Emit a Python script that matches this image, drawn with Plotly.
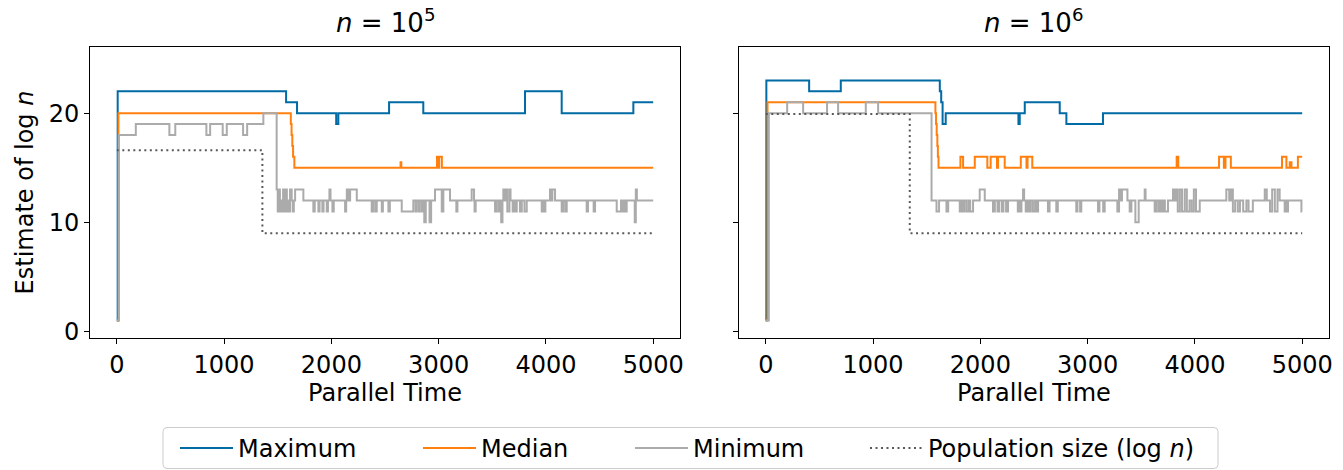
import plotly.graph_objects as go

# ---------------- data ----------------
panel_titles = ["<i>n</i> = 10<sup>5</sup>", "<i>n</i> = 10<sup>6</sup>"]
series_names = ["Maximum", "Median", "Minimum", "Population size (log <i>n</i>)"]
x_ticks = [0, 1000, 2000, 3000, 4000, 5000]
y_ticks = [0, 10, 20]

# n = 10^5 panel (step change points: time, value)
max1_t = [0, 8, 1578, 1680, 2045, 2065, 2538, 2857, 3805, 4147, 4815, 5000]
max1_v = [1, 22, 21, 20, 19, 20, 21, 20, 22, 20, 21, 21]

med1_t = [0, 15, 1622, 1629, 1636, 1643, 1655, 2645, 2652, 2985, 2995, 3005, 3030, 5000]
med1_v = [1, 20, 19, 18, 17, 16, 15, 15.5, 15, 16, 15, 16, 15, 15]

min1_t = [0, 20, 177, 490, 545, 835, 870, 987, 1025, 1177, 1215, 1366, 1490,
          1500, 1510, 1520, 1530, 1540, 1550, 1560, 1575, 1585, 1595, 1605, 1615, 1630, 1640, 1650, 1662,
          1739, 1832, 1845, 1879, 1890, 1916, 1927, 1957, 1968, 1982, 1992, 2010, 2022,
          2128, 2138, 2144, 2160, 2175, 2237, 2376, 2390, 2410, 2423, 2470, 2480, 2532, 2545,
          2656, 2764, 2785, 2795, 2815, 2825, 2845, 2855, 2866, 2880, 2915, 2930,
          2966, 3029, 3044, 3106, 3165, 3175, 3308, 3330, 3335, 3345,
          3526, 3540, 3560, 3572, 3583, 3595, 3603, 3615, 3625, 3640, 3660, 3670, 3690, 3700, 3710, 3728,
          3758, 3775, 3800, 3821, 3961, 3975, 3985, 3995, 4038, 4050, 4060, 4085,
          4147, 4160, 4180, 4194, 4380, 4392, 4445, 4458,
          4660, 4700, 4710, 4725, 4740, 4753, 4828, 4838, 4848, 5000]
min1_v = [1, 18, 19, 18, 19, 18, 19, 18, 19, 18, 19, 20, 13,
          11, 13, 11, 12, 11, 13, 11, 13, 11, 12, 11, 13, 12, 11, 12, 13,
          12, 11, 12, 11, 12, 11, 12, 11, 12, 13, 12, 11, 12,
          11, 12, 13, 12, 13, 12, 11, 12, 11, 12, 11, 12, 11, 12,
          11, 12, 11, 12, 11, 12, 11, 12, 10, 12, 10, 12,
          13, 11, 13, 12, 11, 12, 13, 12, 11, 12,
          11, 12, 11, 12, 10, 12, 13, 12, 13, 11, 13, 12, 11, 12, 11, 12,
          11, 12, 11, 12, 11, 12, 11, 12, 13, 12, 13, 12,
          11, 12, 11, 12, 11, 12, 11, 12,
          11, 12, 11, 12, 11, 12, 10, 13, 12, 12]

pop1_t = [0, 1357, 5000]
pop1_v = [16.61, 9, 9]

# n = 10^6 panel
max2_t = [0, 5, 404, 699, 1622, 1635, 1648, 1677, 2355, 2367, 2414, 2740, 2802, 3143, 5000]
max2_v = [1, 23, 22, 23, 22, 21, 19, 20, 19, 20, 21, 20, 19, 20, 20]

med2_t = [0, 16, 1581, 1587, 1593, 1599, 1604, 1610, 1814, 1839, 1948, 2065, 2096, 2155, 2165,
          2227, 2377, 2430, 2440, 2484, 3830, 3845, 4225, 4270, 4285, 4335,
          4812, 4853, 4884, 4900, 4960, 5000]
med2_v = [1, 21, 20, 19, 18, 17, 16, 15, 16, 15, 16, 15, 16, 15, 16,
          15, 16, 15, 16, 15, 16, 15, 16, 15, 16, 15,
          16, 15, 15.5, 15, 16, 16]

min2_t = [0, 28, 199, 348, 571, 674, 932, 1047, 1545,
          1591, 1615, 1684, 1700, 1808, 1820, 1835, 1850, 1870, 1890, 1905, 1932,
          1994, 2041, 2118, 2135, 2160, 2175, 2200, 2215, 2240, 2258,
          2349, 2360, 2372, 2383, 2398, 2408, 2423, 2440, 2455, 2470, 2490, 2510, 2525, 2538,
          2630, 2645, 2708, 2722, 2894, 2905, 2930, 2941, 3097, 3110, 3145, 3159,
          3277, 3293, 3310, 3320, 3371, 3392, 3408, 3445, 3476, 3532, 3540,
          3625, 3640, 3660, 3675, 3690, 3705, 3720, 3749,
          3796, 3810, 3825, 3840, 3860, 3880, 3905, 3925, 3950, 3970, 3990, 4010, 4045,
          4293, 4320, 4335, 4354, 4375, 4400, 4420, 4450, 4480, 4500, 4540,
          4651, 4670, 4700, 4720, 4745, 4770, 4790, 4837, 4850, 4858, 4868, 4993, 5000]
min2_v = [1, 20, 21, 20, 21, 20, 21, 20, 12,
          11, 12, 11, 12, 11, 12, 11, 12, 11, 12, 11, 12,
          13, 12, 11, 12, 11, 12, 11, 12, 11, 12,
          11, 12, 11, 12, 13, 12, 11, 12, 11, 12, 11, 12, 11, 12,
          11, 12, 11, 12, 11, 12, 11, 12, 11, 12, 11, 12,
          11, 13, 12, 13, 12, 11, 12, 10, 12, 13, 12,
          11, 12, 11, 12, 11, 12, 11, 12,
          13, 12, 13, 11, 13, 11, 13, 11, 12, 11, 13, 11, 12,
          13, 12, 13, 11, 12, 11, 12, 11, 12, 11, 12,
          13, 12, 11, 13, 11, 13, 12, 11, 12, 11, 12, 11, 11]

pop2_t = [0, 1342, 5000]
pop2_v = [19.93, 9, 9]

# ---------------- styling ----------------
colors = ["#006BA4", "#FF800E", "#ABABAB", "#595959"]
FONT = "DejaVu Sans"
FS = 24

W, H = 1343, 470
ML, MR, MT, MB = 90, 14, 47, 132
PW, PH = W - ML - MR, H - MT - MB


def px_x(px):
    return (px - ML) / PW


def px_y(py):
    return (H - MB - py) / PH


panels = [
    [(max1_t, max1_v), (med1_t, med1_v), (min1_t, min1_v), (pop1_t, pop1_v)],
    [(max2_t, max2_v), (med2_t, med2_v), (min2_t, min2_v), (pop2_t, pop2_v)],
]
legend_ids = ["legend", "legend2", "legend3", "legend4"]

fig = go.Figure()
for p, series in enumerate(panels):
    for s, (t, v) in enumerate(series):
        fig.add_trace(go.Scatter(
            x=t, y=v, mode="lines", line_shape="hv",
            name=series_names[s], legendgroup=series_names[s],
            legend=legend_ids[s],
            showlegend=(p == 0),
            line=dict(color=colors[s], width=2,
                      dash=("2px,3.5px" if s == 3 else "solid")),
            xaxis="x" if p == 0 else "x2",
            yaxis="y" if p == 0 else "y2",
            hoverinfo="skip",
        ))

axis_common = dict(
    showline=True, linecolor="black", linewidth=1, mirror=True,
    ticks="outside", ticklen=5, tickwidth=1, tickcolor="black",
    showgrid=False, zeroline=False, automargin=False,
    tickfont=dict(family=FONT, size=FS, color="black"),
)

# one legend per entry, spread like the reference's single-row legend
legend_px = [175, 418, 630, 865]
legend_layout = {}
for lid, lx in zip(legend_ids, legend_px):
    legend_layout[lid] = dict(
        orientation="h", x=px_x(lx), xanchor="left",
        y=px_y(448.5), yanchor="middle",
        bgcolor="rgba(0,0,0,0)", borderwidth=0,
        font=dict(family=FONT, size=FS, color="black"),
        itemwidth=53,
    )

# legend frame (rounded rectangle, paper coordinates)
fx0, fx1 = px_x(163), px_x(1218)
fy0, fy1 = px_y(468.5), px_y(427.5)
rx, ry = 4 / PW, 4 / PH
frame_path = (
    f"M{fx0 + rx},{fy1} L{fx1 - rx},{fy1} Q{fx1},{fy1} {fx1},{fy1 - ry} "
    f"L{fx1},{fy0 + ry} Q{fx1},{fy0} {fx1 - rx},{fy0} "
    f"L{fx0 + rx},{fy0} Q{fx0},{fy0} {fx0},{fy0 + ry} "
    f"L{fx0},{fy1 - ry} Q{fx0},{fy1} {fx0 + rx},{fy1} Z"
)

xr = [-250, 5250]
yr = [-0.6, 26.06]
fig.update_layout(
    width=W, height=H,
    margin=dict(l=ML, r=MR, t=MT, b=MB, autoexpand=False),
    paper_bgcolor="white", plot_bgcolor="white",
    font=dict(family=FONT, size=FS, color="black"),
    xaxis=dict(domain=[0, 0.4762], range=xr, tickvals=x_ticks,
               title=dict(text="Parallel Time", standoff=4,
                          font=dict(family=FONT, size=FS)), **axis_common),
    xaxis2=dict(domain=[0.5238, 1], range=xr, tickvals=x_ticks,
                title=dict(text="Parallel Time", standoff=4,
                           font=dict(family=FONT, size=FS)), **axis_common),
    yaxis=dict(range=yr, tickvals=y_ticks, anchor="x",
               title=dict(text="Estimate of log <i>n</i>", standoff=8,
                          font=dict(family=FONT, size=FS)), **axis_common),
    yaxis2=dict(range=yr, tickvals=y_ticks, anchor="x2", matches="y",
                showticklabels=False, **axis_common),
    shapes=[dict(type="path", path=frame_path, xref="paper", yref="paper",
                 line=dict(color="#CCCCCC", width=1), fillcolor="rgba(0,0,0,0)",
                 layer="below")],
    annotations=[
        dict(text=panel_titles[0], x=0.2381, y=px_y(20.5), xref="paper", yref="paper",
             xanchor="center", yanchor="middle", showarrow=False,
             font=dict(family=FONT, size=26, color="black")),
        dict(text=panel_titles[1], x=0.7619, y=px_y(20.5), xref="paper", yref="paper",
             xanchor="center", yanchor="middle", showarrow=False,
             font=dict(family=FONT, size=26, color="black")),
    ],
    **legend_layout,
)

fig.write_html("out.html")
